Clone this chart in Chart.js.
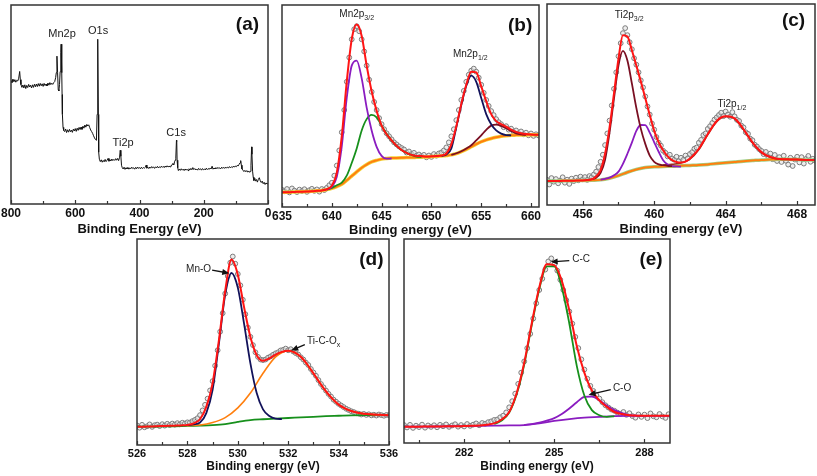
<!DOCTYPE html>
<html>
<head>
<meta charset="utf-8">
<script src="https://cdn.jsdelivr.net/npm/chart.js@4.4.1/dist/chart.umd.min.js"></script>
<style>
html, body { margin: 0; padding: 0; background: #fff; overflow: hidden; }
body { width: 817px; height: 476px; position: relative; }
.panel { position: absolute; }
</style>
</head>
<body>
<script>
// ---- data (intensity in arbitrary units, 0-100 of each frame) ----

// (a) survey spectrum: [binding energy, counts]
const surveyPoints = [
  [800,62.0],[797,61.0],[794,62.8],[791,61.4],[788,62.5],[785,61.2],[782,62.2],[779,61.8],[776,63.2],[773,66.6],
  [771,62.5],[769,60.0],[766,58.6],[763,59.8],[760,58.3],[757,59.9],[754,58.0],[751,59.6],[748,58.5],[745,60.1],
  [742,58.8],[739,59.7],[736,58.3],[733,59.9],[730,58.6],[727,60.2],[724,58.9],[721,60.3],[718,59.0],[715,60.5],
  [712,59.2],[709,60.6],[706,59.4],[703,60.4],[700,59.1],[697,60.6],[694,59.5],[691,60.3],[688,59.3],[685,60.8],
  [682,59.7],[679,61.0],[676,60.0],[673,60.7],[670,60.1],[667,61.0],[664,61.5],[661,63.5],[659,66.0],[657,74.3],
  [655,66.0],[653,57.5],[651,56.8],[649,60.0],[647,66.5],[645,76.0],[644,80.3],[642,66.0],[641,55.0],[640,45.0],
  [638,38.5],[636,37.0],[633,36.4],[630,37.7],[627,35.9],[624,37.3],[621,36.1],[618,37.5],[615,36.3],[612,37.1],
  [609,36.0],[606,37.6],[603,36.7],[600,37.9],[597,36.5],[594,38.1],[591,37.0],[588,38.5],[585,37.4],[582,38.7],
  [579,37.5],[576,39.1],[573,38.1],[570,39.7],[567,38.6],[564,40.0],[561,39.2],[558,39.8],[555,38.4],[552,37.2],
  [549,36.4],[546,35.5],[543,34.3],[540,33.2],[537,32.4],[534,32.0],[532,45.0],[530,82.8],[528,45.0],[527,26.0],
  [525,22.5],[522,21.3],[519,22.2],[516,21.0],[513,21.9],[510,21.2],[507,22.4],[504,21.3],[501,22.0],[498,22.9],
  [495,21.5],[492,22.3],[489,21.6],[486,22.6],[483,21.8],[480,22.4],[477,21.9],[474,22.8],[471,22.0],[468,22.9],
  [465,21.8],[462,23.5],[460,27.0],[458,24.0],[456,19.5],[454,18.4],[451,17.6],[448,18.5],[445,17.4],[442,18.2],
  [439,17.6],[436,18.4],[433,17.5],[430,18.2],[427,17.7],[424,18.5],[421,17.8],[418,18.2],[415,17.5],[412,18.4],
  [409,17.7],[406,18.6],[403,17.9],[400,18.3],[397,17.7],[394,18.5],[391,17.8],[388,18.3],[385,18.0],[382,18.4],
  [379,19.6],[377,18.0],[374,18.5],[371,17.8],[368,18.6],[365,18.0],[362,18.8],[359,18.2],[356,18.6],[353,17.9],
  [350,18.7],[347,18.2],[344,18.9],[341,18.1],[338,18.7],[335,18.3],[332,19.0],[329,18.4],[326,18.9],[323,18.3],
  [320,19.1],[317,18.5],[314,19.2],[311,18.6],[308,19.0],[305,18.7],[302,19.3],[299,19.5],[296,20.4],[293,19.6],
  [291,21.2],[289,22.0],[287,23.0],[285,32.0],[284,31.5],[283,22.0],[281,18.2],[279,16.8],[276,17.6],[273,16.9],
  [270,17.7],[267,17.0],[264,17.5],[261,16.8],[258,17.6],[255,17.0],[252,17.5],[249,16.8],[246,17.7],[243,17.1],
  [240,17.9],[237,17.2],[234,18.3],[231,17.3],[228,17.8],[225,17.1],[222,17.6],[219,17.0],[216,17.9],[213,17.3],
  [210,17.7],[207,17.0],[204,17.8],[201,17.2],[198,17.6],[195,17.1],[192,18.0],[189,17.3],[186,17.8],[183,17.4],
  [180,18.1],[177,17.6],[174,19.0],[171,17.5],[168,18.1],[165,17.6],[162,18.3],[159,17.7],[156,18.4],[153,17.8],
  [150,18.2],[147,17.7],[144,18.5],[141,17.9],[138,18.4],[135,17.9],[132,18.6],[129,18.0],[126,18.5],[123,18.1],
  [120,18.8],[117,18.2],[114,18.7],[111,18.3],[108,19.0],[105,18.5],[102,19.1],[99,18.7],[96,19.4],[93,19.1],
  [90,19.9],[87,20.7],[85,21.8],[83,19.5],[81,17.6],[78,17.0],[75,16.3],[72,16.9],[69,16.2],[66,16.8],
  [63,16.0],[60,16.6],[57,15.9],[55,16.4],[53,19.5],[51,28.7],[50,25.0],[48,16.5],[46,13.5],[44,11.8],
  [41,12.9],[39,11.5],[36,12.3],[33,11.0],[30,12.4],[27,13.2],[24,11.6],[21,10.8],[18,11.5],[15,10.2],
  [12,10.9],[9,9.8],[6,10.6],[3,10.0],[0,10.4]
];

// (b) Mn 2p : raw points every 0.25 eV from 635, fit curves every 0.5 eV
const mnRawStart = 635, mnRawStep = 0.25;
const mnRaw = [
  8.5, 7.8, 8.9, 7.2,   9.2, 8.1, 7.4, 8.6,   7.9, 8.8, 7.5, 8.3,   9.0, 8.0, 8.7, 7.6,
  8.9, 8.4, 9.5, 10.8,  12.0, 15.5, 20.5, 28,  37, 48, 62, 74,     83, 88, 89.5, 87,
  83, 77, 70, 63,       57, 52, 48, 44,       41, 38.5, 36.5, 35,  33.5, 32, 31, 30,
  29.2, 28.5, 27, 27.5, 26.2, 26.8, 25.4, 26, 25.2, 25.8, 24.6, 25.5, 24.8, 26.2, 25.4, 26.5,
  27, 28, 29.5, 32,     35, 38.5, 43, 48,     53, 57.5, 62, 65.5,  67.5, 68.5, 67, 64,
  60.5, 56.5, 53, 50,   47.5, 45.5, 43.5, 42, 41, 39.5, 40, 38.3,  38.8, 37.2, 37.9, 36.5,
  37.4, 36, 36.8, 35.5, 36.4, 35.2, 36, 35.4
];
const mnEnvelope = [
  7.3, 7.3, 7.4, 7.5, 7.6, 7.7, 7.8, 8.0, 8.2, 8.8,
  10.5, 17, 35, 62, 83, 90.3, 84.7, 70, 57.3, 47.6,
  40.3, 36, 33, 30.3, 28.2, 26.8, 25.8, 25.3, 25.2, 25.0,
  25.1, 25.2, 25.5, 26.5, 31, 40, 51, 60.5, 67, 66.6,
  59.7, 52.4, 46, 42.5, 41, 39.8, 38.3, 37.2, 36.5, 36.1,
  35.9, 35.8, 35.8
];
const mnBackground = [
  7.3, 7.3, 7.4, 7.5, 7.6, 7.7, 7.8, 8.0, 8.2, 8.6,
  9.2, 10.1, 11.3, 13.2, 15.3, 17.4, 19.4, 21, 22.3, 23.1,
  23.7, 24, 24.2, 24.3, 24.4, 24.5, 24.5, 24.6, 24.7, 24.8,
  25, 25.1, 25.3, 25.5, 25.8, 26.4, 27.4, 28.5, 29.8, 31.1,
  32.3, 33.2, 33.9, 34.5, 35, 35.3, 35.5, 35.6, 35.7, 35.7,
  35.8, 35.8, 35.8
];
const mn32aStart = 639.5;
const mn32a = [8.6, 10, 15, 30, 54, 70, 72.5, 63.7, 49.2, 37.9, 29.8, 25.3, 23.9, 24.0];
const mn32bStart = 639.5;
const mn32b = [8.6, 9.5, 10.8, 12.1, 15.5, 21.8, 29, 37.9, 43.5, 45.6, 44.4, 40.3, 36.2, 33, 30.3, 28.2, 26.8, 25.8, 25, 24.7];
const mn12aStart = 651;
const mn12a = [25.3, 26, 29, 39.5, 50.5, 60, 65, 62, 54, 46, 41, 37.9, 36.3, 35.6, 35.5];
const mnSatStart = 652;
const mnSat = [25.8, 26.6, 27.6, 29, 30.6, 33, 35.5, 38.2, 40.3, 40.8, 40.2, 39.0, 37.6, 36.4, 35.9, 35.7];

// (c) Ti 2p : raw points every 0.125 eV from 454, fit curves
const tiRawStart = 454, tiRawStep = 0.125;
const tiRaw = [
  12.5, 10.2, 13.4, 11.6, 12.9, 10.8, 12.2, 13.8,
  11.1, 12.6, 10.5, 13.1, 11.9, 13.6, 12.3, 14.1,
  12.8, 13.9, 12.5, 14.4, 13.8, 15.2, 16.6, 18.9,
  21.5, 25.0, 29.8, 35.6, 42.0, 49.5, 57.8, 66.0,
  74.0, 80.5, 85.5, 88.0, 84.5, 81.0, 77.5, 73.0,
  69.8, 66.0, 62.0, 58.5, 54.0, 49.0, 45.0, 40.5,
  37.5, 33.8, 31.0, 29.5, 27.0, 26.0, 24.2, 25.0,
  23.1, 22.5, 24.0, 21.8, 23.5, 22.4, 24.6, 23.2,
  25.4, 26.3, 28.0, 28.6, 31.0, 32.4, 34.8, 35.6,
  37.9, 39.2, 40.8, 42.5, 43.6, 44.8, 45.9, 44.2,
  46.5, 45.0, 43.9, 46.2, 44.1, 42.4, 41.8, 39.5,
  38.6, 36.2, 35.4, 33.0, 32.2, 30.0, 29.1, 27.8,
  26.9, 25.3, 26.4, 24.2, 25.6, 22.8, 24.9, 21.9,
  23.8, 21.4, 24.5, 22.0, 20.1, 23.5, 19.4, 22.6,
  24.0, 21.2, 23.8, 20.6, 22.9, 24.4, 21.5, 23.0,
  22.1
];
const tiEnvelopeStart = 454;
const tiEnvelope = [
  12.0, 12.0, 12.0, 12.0, 12.1, 12.1, 12.1, 12.2,
  12.2, 12.4, 12.8, 14.2, 17.4, 25.5, 38.5, 55.5,
  72.7, 84.5, 83.8, 77.0, 69.4, 61.5, 53.2, 44.8,
  36.9, 31.2, 27.2, 24.2, 22.3, 21.4, 21.1, 21.6,
  23.1, 25.3, 28.0, 31.6, 35.3, 38.8, 41.8, 43.6,
  44.2, 44.0, 43.1, 40.8, 37.7, 34.4, 31.2, 28.5,
  26.3, 24.8, 23.9, 23.3, 22.9, 22.8, 22.7, 22.6,
  22.6, 22.5, 22.4, 22.4, 22.3
];
const ti32aStart = 456.5;
const ti32a = [12.8, 13.6, 16.0, 22.5, 36.0, 53.0, 69.4, 76.7, 71.9, 60.5, 48.3, 38.0, 30.4, 24.6, 21.5, 20.2, 19.8, 19.5, 19.3];
const ti32bStart = 457;
const ti32b = [12.6, 13.0, 13.6, 14.8, 16.6, 20.5, 25.5, 31.0, 36.9, 39.8, 39.7, 36.0, 31.2, 26.5, 22.3, 20.2, 19.3, 19.2, 19.1];
const ti12Start = 460.5;
const ti12 = [19.8, 20.3, 20.9, 22.8, 27.6, 35.0, 41.5, 44.0, 42.9, 37.5, 31.0, 26.1, 23.7, 22.8, 22.6, 22.6, 22.4];
const tiBackgroundStart = 454;
const tiBackground = [
  12, 12, 12.1, 12.1, 12.2, 12.3, 12.5, 13.3, 14.6, 16.3,
  17.7, 18.7, 19.0, 19.2, 19.3, 19.5, 19.7, 19.9, 20.2, 20.6,
  21.0, 21.4, 21.8, 22.1, 22.4, 22.6, 22.8, 22.7, 22.6, 22.4,
  22.3
];

// (d) O 1s
const oRawStart = 526, oRawStep = 0.1;
const oRaw = [
  9.5, 8.4, 9.8, 8.6, 9.1, 10.0, 8.8, 9.6, 9.9, 9.2,
  10.1, 9.4, 10.3, 9.7, 10.4, 9.9, 10.6, 10.0, 10.8, 10.4,
  11.0, 10.9, 11.6, 12.2, 13.0, 14.5, 16.8, 19.5, 22.5, 26.5,
  31.0, 38.5, 46.0, 55.0, 64.0, 73.5, 82.0, 88.5, 91.5, 88.0,
  83.0, 77.5, 70.5, 63.5, 57.0, 52.5, 48.5, 45.0, 42.8, 41.5,
  41.2, 41.5, 42.4, 43.0, 43.8, 44.5, 45.0, 45.9, 46.2, 46.8,
  46.0, 46.5, 45.4, 44.6, 43.9, 42.6, 41.5, 40.0, 38.8, 36.9,
  35.2, 33.6, 31.5, 29.6, 28.0, 26.4, 24.8, 23.5, 22.0, 21.0,
  20.0, 19.2, 18.4, 17.6, 17.0, 16.4, 16.0, 15.4, 15.2, 14.8,
  15.1, 14.6, 14.9, 14.4, 14.7, 14.3, 14.8, 14.5, 14.2, 14.6,
  14.5
];
const oEnvelopeStart = 526;
const oEnvelope = [
  8.9, 8.9, 9.0, 9.1, 9.2, 9.3, 9.4, 9.5, 9.7, 10.5,
  12.5, 18.5, 30.0, 50.8, 74.8, 90.0, 82.7, 66.8, 52.4, 43.6,
  40.9, 42.0, 43.9, 45.2, 45.7, 45.0, 42.8, 39.2, 34.8, 30.2,
  26.0, 22.5, 19.6, 17.8, 16.5, 15.7, 15.2, 14.9, 14.7, 14.6,
  14.5
];
const oMnOStart = 528;
const oMnO = [9.6, 10.0, 10.9, 15.5, 26.8, 49.2, 73.0, 83.5, 76.4, 58.8, 39.6, 25.2, 17.3, 14.1, 12.8, 12.6];
const oTiCOStart = 528;
const oTiCO = [9.4, 9.7, 10.9, 13.3, 18.0, 25.2, 34.8, 42.8, 45.7, 42.8, 34.8, 26.0, 19.6, 16.5, 15.2, 14.7, 14.5];
const oBackgroundStart = 526;
const oBackground = [8.9, 8.9, 9.0, 9.1, 9.3, 9.4, 9.6, 10.1, 11.2, 12.1, 12.5, 12.8, 13.1, 13.4, 13.7, 14.0, 14.2, 14.4, 14.5, 14.5, 14.5];

// (e) C 1s
const cRawStart = 280, cRawStep = 0.1;
const cRaw = [
  8.8, 7.6, 8.9, 7.4, 8.5, 7.8, 9.0, 7.5, 8.6, 7.9,
  8.7, 7.7, 8.9, 8.2, 9.1, 7.9, 8.6, 9.2, 8.0, 8.8,
  8.1, 9.3, 8.4, 9.0, 9.6, 8.7, 9.8, 9.4, 10.2, 10.6,
  11.3, 11.5, 12.6, 13.4, 15.0, 17.5, 20.5, 24.2, 29.0, 34.5,
  40.0, 46.5, 53.5, 61.0, 68.5, 75.0, 80.5, 85.0, 89.0, 90.5,
  87.5, 84.5, 80.0, 75.0, 70.0, 64.5, 58.5, 52.0, 46.5, 41.0,
  36.0, 31.5, 28.0, 25.5, 23.5, 21.8, 20.0, 18.5, 17.4, 16.4,
  15.8, 14.9, 14.3, 15.2, 13.8, 14.6, 13.2, 12.4, 14.0, 12.8,
  13.9, 12.2, 14.5, 13.1, 12.6, 14.2, 13.0, 12.3, 14.1, 13.4
];
const cEnvelopeStart = 280;
const cEnvelope = [
  8.0, 8.0, 8.0, 8.1, 8.1, 8.1, 8.2, 8.2, 8.3, 8.4,
  8.6, 9.0, 9.6, 11.5, 15.2, 24.5, 39.3, 58.6, 76.2, 87.6,
  87.2, 79.5, 65.0, 47.4, 34.5, 25.7, 20.9, 17.7, 15.2, 14.2,
  13.6, 13.4, 13.3, 13.3, 13.3, 13.3, 13.3
];
const cCCStart = 283;
const cCC = [9.3, 11.0, 14.9, 24.0, 38.5, 57.8, 75.4, 86.6, 86.6, 76.2, 58.6, 37.7, 23.3, 16.1, 13.6, 12.8, 13.2];
const cCOStart = 284;
const cCO = [8.9, 9.3, 10.0, 11.0, 12.2, 14.2, 16.9, 20.0, 22.6, 22.8, 20.9, 18.3, 16.1, 14.6, 13.7, 13.4, 13.3];
const cBackgroundStart = 280;
const cBackground = [8.0, 8.0, 8.1, 8.2, 8.3, 8.4, 8.5, 8.6, 8.8, 9.6, 10.8, 11.7, 12.4, 12.8, 13.2, 13.3, 13.3, 13.3, 13.3];

// tick labels (major) and minor tick marks of each x axis
const ticksA = [800, 600, 400, 200, 0],            minorA = [700, 500, 300, 100];
const ticksB = [635, 640, 645, 650, 655, 660],     minorB = [637.5, 642.5, 647.5, 652.5, 657.5];
const ticksC = [456, 460, 464, 468],               minorC = [458, 462, 466];
const ticksD = [526, 528, 530, 532, 534, 536],     minorD = [527, 529, 531, 533, 535];
const ticksE = [282, 285, 288],                    minorE = [280.5, 283.5, 286.5];

// ---- helpers ----
const FONT = '"Liberation Sans", Arial, sans-serif';
Chart.defaults.font.family = FONT;
Chart.defaults.color = '#111';

function series(start, step, vals) {
  return vals.map((v, i) => ({ x: +(start + i * step).toFixed(3), y: v }));
}

function line(data, color, width, order) {
  return {
    data: data, borderColor: color, backgroundColor: color, borderWidth: width,
    pointRadius: 0, showLine: true, fill: false,
    cubicInterpolationMode: 'monotone', order: order
  };
}

function dots(data) {
  return {
    data: data, showLine: false, pointRadius: 2.4, pointBorderWidth: 1,
    pointBorderColor: '#7c7c7c', pointBackgroundColor: 'rgba(225,225,225,0.6)', order: 9
  };
}

function drawNote(ctx, n, px, py) {
  const size = n.size || 10;
  const main = (n.bold ? 'bold ' : '') + size + 'px ' + FONT;
  const small = Math.round(size * 0.72) + 'px ' + FONT;
  ctx.font = main;
  const w1 = ctx.measureText(n.text).width;
  let w2 = 0;
  if (n.sub) { ctx.font = small; w2 = ctx.measureText(n.sub).width; }
  const align = n.align || 'center';
  let sx = px - (w1 + w2) / 2;
  if (align === 'left') sx = px;
  if (align === 'right') sx = px - w1 - w2;
  ctx.fillStyle = n.color || '#222';
  ctx.textAlign = 'left';
  ctx.textBaseline = 'middle';
  ctx.font = main;
  ctx.fillText(n.text, sx, py);
  if (n.sub) { ctx.font = small; ctx.fillText(n.sub, sx + w1, py + size * 0.38); }
}

function makeDecor(spec) {
  return {
    id: 'decor',
    afterDatasetsDraw(chart) {
      const ctx = chart.ctx, ca = chart.chartArea, xs = chart.scales.x, ys = chart.scales.y;
      ctx.save();
      // frame
      ctx.strokeStyle = '#333';
      ctx.lineWidth = 1.5;
      ctx.strokeRect(ca.left, ca.top, ca.right - ca.left, ca.bottom - ca.top);
      // inward tick marks
      ctx.lineWidth = 1.2;
      xs.ticks.forEach(t => {
        const px = Math.round(xs.getPixelForValue(t.value)) + 0.5;
        const len = spec.major.includes(t.value) ? 4 : 3;
        ctx.beginPath();
        ctx.moveTo(px, ca.bottom);
        ctx.lineTo(px, ca.bottom - len);
        ctx.stroke();
      });
      // arrows
      (spec.arrows || []).forEach(a => {
        const x1 = xs.getPixelForValue(a.x1), y1 = ys.getPixelForValue(a.y1);
        const x2 = xs.getPixelForValue(a.x2), y2 = ys.getPixelForValue(a.y2);
        const ang = Math.atan2(y2 - y1, x2 - x1);
        ctx.strokeStyle = '#111';
        ctx.fillStyle = '#111';
        ctx.lineWidth = 1.3;
        ctx.beginPath();
        ctx.moveTo(x1, y1);
        ctx.lineTo(x2 - 4 * Math.cos(ang), y2 - 4 * Math.sin(ang));
        ctx.stroke();
        ctx.beginPath();
        ctx.moveTo(x2, y2);
        ctx.lineTo(x2 - 7 * Math.cos(ang) + 3 * Math.sin(ang), y2 - 7 * Math.sin(ang) - 3 * Math.cos(ang));
        ctx.lineTo(x2 - 7 * Math.cos(ang) - 3 * Math.sin(ang), y2 - 7 * Math.sin(ang) + 3 * Math.cos(ang));
        ctx.closePath();
        ctx.fill();
      });
      // text labels
      (spec.notes || []).forEach(n => drawNote(ctx, n, xs.getPixelForValue(n.x), ys.getPixelForValue(n.y)));
      ctx.restore();
    }
  };
}

function makePanel(spec) {
  const box = spec.box, ax = spec.axis;
  const padL = 16, padR = 16, padT = 6;
  const axisH = ax.tickPad + ax.tickSize + ax.titleSize * 1.2 + ax.titleShift;
  const w = box.width + padL + padR;
  const h = Math.ceil(padT + box.height + axisH + 2);
  const wrap = document.createElement('div');
  wrap.className = 'panel';
  wrap.style.left = (box.left - padL) + 'px';
  wrap.style.top = (box.top - padT) + 'px';
  const cv = document.createElement('canvas');
  cv.width = w; cv.height = h;
  cv.style.width = w + 'px'; cv.style.height = h + 'px';
  wrap.appendChild(cv);
  document.body.appendChild(wrap);
  const allTicks = spec.major.concat(spec.minor).sort((p, q) => p - q);

  new Chart(cv, {
    type: 'scatter',
    data: { datasets: spec.datasets },
    options: {
      responsive: false,
      animation: false,
      events: [],
      layout: { padding: { left: padL, right: padR, top: padT, bottom: h - padT - box.height - axisH } },
      plugins: { legend: { display: false }, tooltip: { enabled: false } },
      scales: {
        x: {
          type: 'linear', min: spec.xMin, max: spec.xMax, reverse: !!spec.reverse,
          grid: { display: false, drawTicks: false },
          border: { display: false },
          afterBuildTicks: scale => { scale.ticks = allTicks.map(v => ({ value: v })); },
          ticks: {
            autoSkip: false, maxRotation: 0, minRotation: 0, padding: ax.tickPad, color: '#111',
            font: { size: ax.tickSize, weight: 'bold', lineHeight: 1 },
            callback: v => spec.major.includes(v) ? String(v) : ''
          },
          title: {
            display: true, text: spec.title, color: '#111',
            font: { size: ax.titleSize, weight: 'bold', lineHeight: 1.2 },
            padding: { top: ax.titleShift, bottom: 0 }
          }
        },
        y: { display: false, min: 0, max: 100 }
      }
    },
    plugins: [makeDecor(spec)]
  });
}

// ---- panels ----
const RED = '#ff1414', PURPLE = '#8a1cc0', GREEN = '#17901c', NAVY = '#12125a',
      MAROON = '#7a0f22', ORANGE = '#ff7f0e', YELLOW = '#f2d33a';

makePanel({
  box: { left: 11, top: 5, width: 257, height: 203 },
  xMin: 0, xMax: 800, reverse: true, major: ticksA, minor: minorA,
  title: 'Binding Energy (eV)',
  axis: { tickSize: 12, tickPad: 4, titleSize: 13, titleShift: -2 },
  datasets: [
    { data: surveyPoints.map(p => ({ x: p[0], y: p[1] })), borderColor: '#111', borderWidth: 1,
      pointRadius: 0, showLine: true, tension: 0, fill: false }
  ],
  notes: [
    { text: 'Mn2p', x: 641, y: 85.2, size: 11 },
    { text: 'O1s', x: 529, y: 86.7, size: 11 },
    { text: 'Ti2p', x: 451, y: 30.5, size: 11 },
    { text: 'C1s', x: 286, y: 35.5, size: 11 },
    { text: '(a)', x: 64, y: 89.9, size: 19, bold: true, color: '#111' }
  ]
});

makePanel({
  box: { left: 282, top: 5, width: 257, height: 206 },
  xMin: 635, xMax: 660.8, major: ticksB, minor: minorB,
  title: 'Binding energy (eV)',
  axis: { tickSize: 12, tickPad: 4, titleSize: 13, titleShift: -4 },
  datasets: [
    line(series(635, 0.5, mnEnvelope), RED, 2, 1),
    line(series(mn32aStart, 0.5, mn32a), PURPLE, 1.8, 2),
    line(series(mn32bStart, 0.5, mn32b), GREEN, 1.8, 2),
    line(series(mn12aStart, 0.5, mn12a), NAVY, 1.8, 2),
    line(series(mnSatStart, 0.5, mnSat), MAROON, 1.8, 2),
    line(series(635, 0.5, mnBackground), ORANGE, 2, 3),
    line(series(635, 0.5, mnBackground), YELLOW, 3.5, 4),
    dots(series(mnRawStart, mnRawStep, mnRaw))
  ],
  notes: [
    { text: 'Mn2p', sub: '3/2', x: 642.5, y: 95.2 },
    { text: 'Mn2p', sub: '1/2', x: 653.9, y: 75.8 },
    { text: '(b)', x: 658.9, y: 89.8, size: 19, bold: true, color: '#111' }
  ]
});

makePanel({
  box: { left: 547, top: 4, width: 268, height: 205 },
  xMin: 454, xMax: 469, major: ticksC, minor: minorC,
  title: 'Binding energy (eV)',
  axis: { tickSize: 12, tickPad: 4, titleSize: 13, titleShift: -3 },
  datasets: [
    line(series(tiEnvelopeStart, 0.25, tiEnvelope), RED, 2, 1),
    line(series(ti32aStart, 0.25, ti32a), MAROON, 1.8, 2),
    line(series(ti32bStart, 0.25, ti32b), PURPLE, 1.8, 2),
    line(series(ti12Start, 0.5, ti12), '#9c2a1c', 1.6, 2),
    line(series(tiBackgroundStart, 0.5, tiBackground), ORANGE, 2, 3),
    line(series(tiBackgroundStart, 0.5, tiBackground), '#9fd08a', 3.5, 4),
    dots(series(tiRawStart, tiRawStep, tiRaw))
  ],
  notes: [
    { text: 'Ti2p', sub: '3/2', x: 458.6, y: 94.6 },
    { text: 'Ti2p', sub: '1/2', x: 464.35, y: 49.9 },
    { text: '(c)', x: 467.8, y: 91.5, size: 19, bold: true, color: '#111' }
  ]
});

makePanel({
  box: { left: 137, top: 239, width: 252, height: 209 },
  xMin: 526, xMax: 536, major: ticksD, minor: minorD,
  title: 'Binding energy (eV)',
  axis: { tickSize: 11, tickPad: 3, titleSize: 12, titleShift: -3 },
  datasets: [
    line(series(oEnvelopeStart, 0.25, oEnvelope), RED, 2, 1),
    line(series(oMnOStart, 0.25, oMnO), NAVY, 1.8, 2),
    line(series(oTiCOStart, 0.5, oTiCO), ORANGE, 1.6, 2),
    line(series(oBackgroundStart, 0.5, oBackground), GREEN, 1.8, 3),
    dots(series(oRawStart, oRawStep, oRaw))
  ],
  notes: [
    { text: 'Mn-O', x: 528.94, y: 85.5, align: 'right' },
    { text: 'Ti-C-O', sub: 'x', x: 532.75, y: 50.2, align: 'left' },
    { text: '(d)', x: 535.3, y: 89.9, size: 19, bold: true, color: '#111' }
  ],
  arrows: [
    { x1: 528.98, y1: 84.9, x2: 529.66, y2: 83.4 },
    { x1: 532.66, y1: 48.7, x2: 532.12, y2: 45.9 }
  ]
});

makePanel({
  box: { left: 404, top: 239, width: 266, height: 208 },
  xMin: 280, xMax: 288.85, major: ticksE, minor: minorE,
  title: 'Binding energy (eV)',
  axis: { tickSize: 11, tickPad: 4, titleSize: 12, titleShift: -3 },
  datasets: [
    line(series(cEnvelopeStart, 0.25, cEnvelope), RED, 2, 1),
    line(series(cCCStart, 0.25, cCC), GREEN, 1.8, 2),
    line(series(cCOStart, 0.25, cCO), PURPLE, 1.8, 2),
    line(series(cBackgroundStart, 0.5, cBackground), PURPLE, 1.8, 3),
    dots(series(cRawStart, cRawStep, cRaw))
  ],
  notes: [
    { text: 'C-C', x: 285.6, y: 89.9, align: 'left' },
    { text: 'C-O', x: 286.95, y: 26.8, align: 'left' },
    { text: '(e)', x: 288.22, y: 89.9, size: 19, bold: true, color: '#111' }
  ],
  arrows: [
    { x1: 285.5, y1: 89.4, x2: 284.88, y2: 88.8 },
    { x1: 286.88, y1: 26.2, x2: 286.14, y2: 23.6 }
  ]
});
</script>
</body>
</html>
